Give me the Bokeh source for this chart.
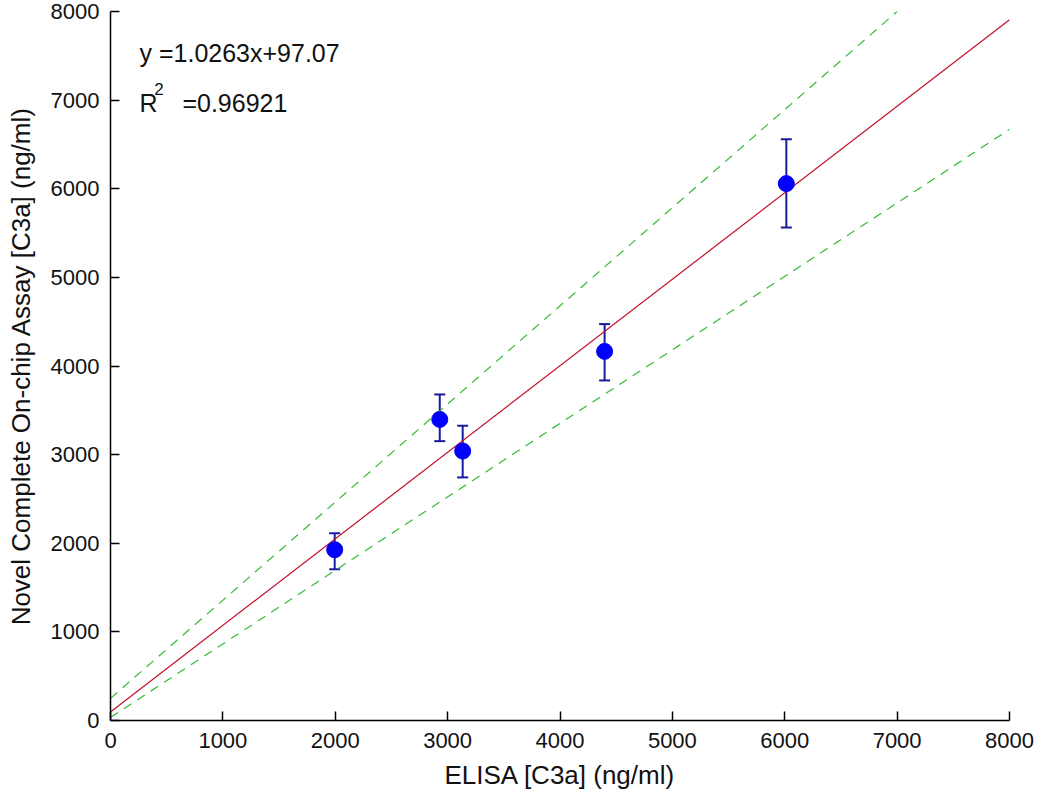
from bokeh.plotting import figure
from bokeh.models import ColumnDataSource, Whisker, TeeHead, Label, Range1d, FixedTicker
from bokeh.embed import file_html
from bokeh.resources import INLINE

# ---- data ----
elisa = [1995, 2930, 3134, 4397, 6014]
assay = [1927, 3397, 3040, 4165, 6058]
err_upper = [2114, 3679, 3326, 4473, 6558]
err_lower = [1708, 3152, 2743, 3837, 5564]

fit_x = [0, 8000]
fit_y = [97, 7908]
upper_x = [0, 7000]
upper_y = [250, 8000]
lower_x = [0, 8000]
lower_y = [35, 6670]

ticks = [0, 1000, 2000, 3000, 4000, 5000, 6000, 7000, 8000]
eq_text = "y =1.0263x+97.07"
r2_base = "R"
r2_sup = "2"
r2_value = "=0.96921"

FONT = "Liberation Sans"

p = figure(width=1039, height=798, output_backend="svg", toolbar_location=None,
           x_range=Range1d(0, 8000), y_range=Range1d(0, 8000),
           min_border_left=110, min_border_right=30, min_border_top=11, min_border_bottom=78)
p.outline_line_color = None
p.xgrid.visible = False
p.ygrid.visible = False
p.background_fill_color = "white"

for ax in (p.xaxis[0], p.yaxis[0]):
    ax.ticker = FixedTicker(ticks=ticks)
    ax.minor_tick_line_color = None
    ax.major_tick_in = 9
    ax.major_tick_out = 0
    ax.axis_line_width = 1.5
    ax.major_tick_line_width = 1.5
    ax.axis_line_color = "black"
    ax.major_tick_line_color = "black"
    ax.major_label_text_font = FONT
    ax.major_label_text_font_size = "22px"
    ax.major_label_text_color = "#111111"
    ax.axis_label_text_font = FONT
    ax.axis_label_text_font_size = "26px"
    ax.axis_label_text_font_style = "normal"
    ax.axis_label_text_color = "#111111"

p.xaxis.axis_label = "ELISA [C3a] (ng/ml)"
p.yaxis.axis_label = "Novel Complete On-chip Assay [C3a] (ng/ml)"
p.xaxis.major_label_standoff = 12
p.yaxis.major_label_standoff = 11
p.xaxis.axis_label_standoff = 9
p.yaxis.axis_label_standoff = 12

# confidence bands
p.line(upper_x, upper_y, line_color="#33bb33", line_width=1.2, line_dash="9 7")
p.line(lower_x, lower_y, line_color="#33bb33", line_width=1.2, line_dash="9 7")
# fit
p.line(fit_x, fit_y, line_color="#c0102a", line_width=1.2)

src = ColumnDataSource(dict(x=elisa, y=assay, up=err_upper, lo=err_lower))
w = Whisker(base="x", upper="up", lower="lo", source=src, dimension="height",
            line_color="#1a1aa0", line_width=2,
            upper_head=TeeHead(size=11, line_color="#1a1aa0", line_width=2),
            lower_head=TeeHead(size=11, line_color="#1a1aa0", line_width=2))
p.add_layout(w)
p.scatter("x", "y", source=src, size=16, fill_color="#0000ff", line_color="#0000ee")

p.add_layout(Label(x=258, y=7528, text=eq_text, text_font=FONT, text_font_size="25px",
                   text_baseline="middle", text_color="#111111"))
p.add_layout(Label(x=258, y=6964, text=r2_base, text_font=FONT, text_font_size="25px",
                   text_baseline="middle", text_color="#111111"))
p.add_layout(Label(x=390, y=7130, text=r2_sup, text_font=FONT, text_font_size="17px",
                   text_baseline="middle", text_color="#111111"))
p.add_layout(Label(x=640, y=6964, text=r2_value, text_font=FONT, text_font_size="25px",
                   text_baseline="middle", text_color="#111111"))

open("out.html", "w").write(file_html(p, INLINE))
